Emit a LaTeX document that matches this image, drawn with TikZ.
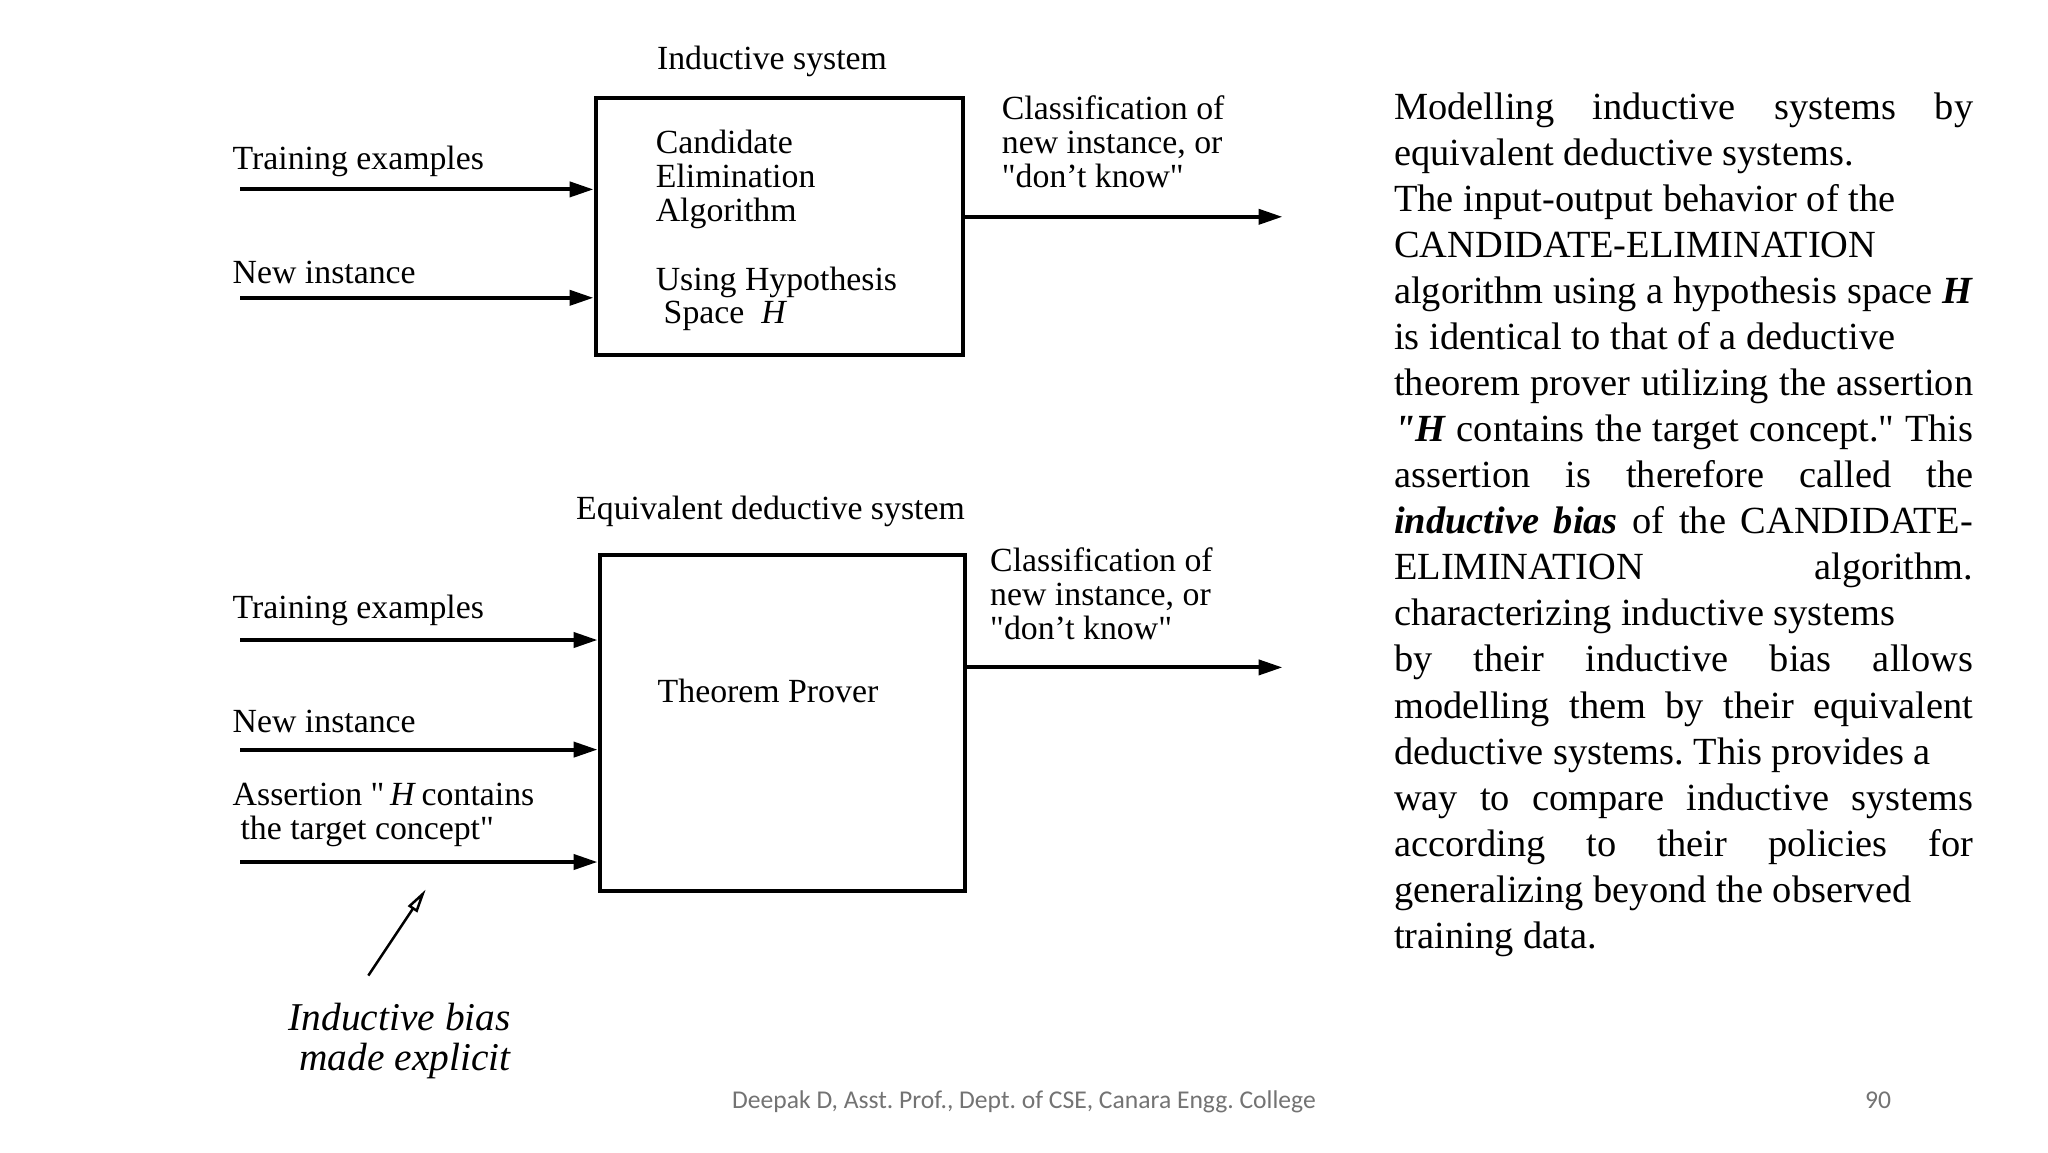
\documentclass[tikz,border=0pt]{standalone}
\usepackage{fontspec}
\setmainfont{Liberation Serif}[Ligatures=TeXOff]
\newfontfamily\footfont{Carlito}
\usetikzlibrary{arrows.meta}
\frenchspacing
\newcommand{\RTj}[2]{\node[rtext] (t#1) at (1394,{119+46.08*(#1-1)}) {\makebox[579pt][s]{#2}};}
\newcommand{\RTr}[2]{\node[rtext] (t#1) at (1394,{119+46.08*(#1-1)}) {#2};}
\tikzset{
  dlab/.style={inner sep=0pt, anchor=base west, font=\fontsize{33.8}{34}\selectfont},
  dlabc/.style={inner sep=0pt, anchor=base, font=\fontsize{33.8}{34}\selectfont},
  ilab/.style={inner sep=0pt, anchor=base, font=\fontsize{39.4}{40}\selectfont\itshape},
  rtext/.style={inner sep=0pt, anchor=base west, font=\fontsize{38.4}{46}\selectfont},
  foot/.style={inner sep=0pt, anchor=base, text=black!55, font=\fontsize{25.6}{30}\selectfont\footfont},
  sysbox/.style={draw, line width=4pt, inner sep=0pt},
  inarrow/.style={line width=4pt, -{Triangle[length=24pt,width=15pt]}},
  biasarrow/.style={line width=2.5pt, -{Triangle[open,length=24pt,width=11pt,line width=2.5pt]}},
}
\begin{document}
\begin{tikzpicture}[x=1pt,y=-1pt]
\useasboundingbox (0,0) rectangle (2048,1152);
\fill[white] (0,0) rectangle (2048,1152);

% ---------- Inductive system ----------
\node[dlabc] (title1) at (772,69) {Inductive system};
\node[sysbox, minimum width=367pt, minimum height=257pt] (box1) at (779,226.5) {};
\node[dlab] (cand) at (655.6,153.7) {Candidate};
\node[dlab] (elim) at (655.6,187.6) {Elimination};
\node[dlab] (algo) at (655.6,221.6) {Algorithm};
\node[dlab] (usin) at (655.6,290.8) {Using Hypothesis};
\node[dlab] (spac) at (663.5,323.4) {Space\ \ \textit{H}};

\node[dlab] (tr1lab) at (232.5,169) {Training examples};
\node[dlab] (ni1lab) at (232.5,283) {New instance};
\coordinate (tr1) at (240.3,189.4);
\coordinate (ni1) at (240.3,297.8);
\draw[inarrow] (tr1) -- (tr1 -| box1.west);
\draw[inarrow] (ni1) -- (ni1 -| box1.west);

\node[dlab] (cl1a) at (1001.7,119.7) {Classification of};
\node[dlab] (cl1b) at (1001.7,153.7) {new instance, or};
\node[dlab] (cl1c) at (1001.7,187.6) {"don’t know"};
\coordinate (out1) at (1282.5,216.8);
\draw[inarrow] (box1.east |- out1) -- (out1);

% ---------- Equivalent deductive system ----------
\node[dlabc] (title2) at (770.5,519.3) {Equivalent deductive system};
\node[sysbox, minimum width=365.5pt, minimum height=335.7pt] (box2) at (782.3,722.9) {};
\node[dlabc] (thp) at (768,702) {Theorem Prover};

\node[dlab] (tr2lab) at (232.5,618.6) {Training examples};
\node[dlab] (ni2lab) at (232.5,732.2) {New instance};
\node[dlab] (as2a) at (232.5,805.4) {Assertion "\,\textit{H}\,contains};
\node[dlab] (as2b) at (240.3,839.3) {the target concept"};
\coordinate (tr2) at (240.3,640);
\coordinate (ni2) at (240.3,749.6);
\coordinate (as2) at (240.3,862);
\draw[inarrow] (tr2) -- (tr2 -| box2.west);
\draw[inarrow] (ni2) -- (ni2 -| box2.west);
\draw[inarrow] (as2) -- (as2 -| box2.west);

\node[dlab] (cl2a) at (990,571.6) {Classification of};
\node[dlab] (cl2b) at (990,605.5) {new instance, or};
\node[dlab] (cl2c) at (990,639.5) {"don’t know"};
\coordinate (out2) at (1282.5,667.4);
\draw[inarrow] (box2.east |- out2) -- (out2);

\node[ilab] (bias1) at (399.6,1030) {Inductive bias};
\node[ilab] (bias2) at (404.9,1070) {made explicit};
\coordinate (bs) at (368.3,975.6);
\coordinate (be) at (425.8,889.4);
\draw[biasarrow] (bs) -- (be);

% ---------- Right-hand text ----------
\RTj{1}{Modelling inductive systems by}
\RTr{2}{equivalent deductive systems.}
\RTr{3}{The input-output behavior of the}
\RTr{4}{CANDIDATE-ELIMINATION}
\RTj{5}{algorithm using a hypothesis space \textbf{\textit{H}}}
\RTr{6}{is identical to that of a deductive}
\RTj{7}{theorem prover utilizing the assertion}
\RTj{8}{\textbf{\textit{"H}} contains the target concept." This}
\RTj{9}{assertion is therefore called the}
\RTj{10}{\textbf{\textit{inductive bias}} of the CANDIDATE-}
\RTj{11}{ELIMINATION algorithm.}
\RTr{12}{characterizing inductive systems}
\RTj{13}{by their inductive bias allows}
\RTj{14}{modelling them by their equivalent}
\RTr{15}{deductive systems. This provides a}
\RTj{16}{way to compare inductive systems}
\RTj{17}{according to their policies for}
\RTr{18}{generalizing beyond the observed}
\RTr{19}{training data.}

% ---------- Footer ----------
\node[foot] (footer) at (1024,1108) {Deepak D, Asst. Prof., Dept. of CSE, Canara Engg. College};
\node[foot] (pagenum) at (1878,1108) {90};
\end{tikzpicture}
\end{document}
